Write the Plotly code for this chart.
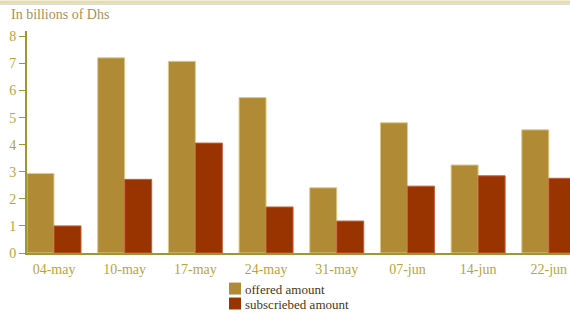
import plotly.graph_objects as go

categories = ["04-may", "10-may", "17-may", "24-may", "31-may", "07-jun", "14-jun", "22-jun"]
offered = [2.94, 7.21, 7.08, 5.74, 2.41, 4.81, 3.25, 4.55]
subscribed = [1.0, 2.72, 4.06, 1.70, 1.18, 2.47, 2.85, 2.76]
series_names = ["offered amount", "subscriebed amount"]
series_colors = ["#b08a35", "#993300"]
y_ticks = [0, 1, 2, 3, 4, 5, 6, 7, 8]

W, H = 570, 315
ML, MR, MT, MB = 27, 0, 30.5, 61.7
pw = W - ML - MR
ph = H - MT - MB

def px_x(x):
    return (x - ML) / pw

def px_y(y):
    return (H - MB - y) / ph

axis_col = "#9c9a2c"
tick_col = "#b8a43a"
font_fam = "Liberation Serif, DejaVu Serif, serif"

fig = go.Figure()
fig.add_trace(go.Bar(x=categories, y=offered, name=series_names[0], showlegend=False,
                     marker=dict(color=series_colors[0], line=dict(color="#dccb8c", width=1))))
fig.add_trace(go.Bar(x=categories, y=subscribed, name=series_names[1], showlegend=False,
                     marker=dict(color=series_colors[1], line=dict(color="#c2603a", width=1))))

shapes = [
    dict(type="rect", xref="paper", yref="paper", x0=px_x(0), x1=px_x(W),
         y0=px_y(3), y1=px_y(0), fillcolor="#e8dcaa", line=dict(width=0), layer="above"),
    dict(type="line", xref="paper", yref="paper", x0=px_x(0), x1=px_x(W),
         y0=px_y(3.5), y1=px_y(3.5), line=dict(color="#c8c8c8", width=1)),
]
annotations = [
    dict(text="In billions of Dhs", xref="paper", yref="paper",
         x=px_x(9), y=px_y(14), xanchor="left", yanchor="middle",
         showarrow=False, font=dict(family=font_fam, size=14, color="#a8905a")),
]
# legend drawn as swatches + text
for i, (nm, col) in enumerate(zip(series_names, series_colors)):
    top = 283 + i * 15
    shapes.append(dict(type="rect", xref="paper", yref="paper",
                       x0=px_x(229), x1=px_x(241), y0=px_y(top + 12), y1=px_y(top),
                       fillcolor=col, line=dict(width=0)))
    annotations.append(dict(text=nm, xref="paper", yref="paper",
                            x=px_x(243), y=px_y(top + 6.5), xanchor="left", yanchor="middle",
                            showarrow=False,
                            font=dict(family=font_fam, size=13, color="#4a3418")))

fig.update_layout(
    width=W, height=H,
    margin=dict(l=ML, r=MR, t=MT, b=MB, pad=0, autoexpand=False),
    paper_bgcolor="white", plot_bgcolor="white",
    barmode="group", bargap=0.236, bargroupgap=0,
    font=dict(family=font_fam, size=14, color=tick_col),
    showlegend=False,
    xaxis=dict(type="category", range=[-0.382, 7.30], showgrid=False, automargin=False,
               showline=True, linecolor=axis_col, linewidth=2,
               ticks="", ticklabelstandoff=2,
               tickfont=dict(family=font_fam, size=14, color=tick_col),
               fixedrange=True),
    yaxis=dict(range=[0, 8.2], tickvals=y_ticks, showgrid=False, zeroline=False,
               automargin=False,
               showline=True, linecolor=axis_col, linewidth=2,
               ticks="outside", ticklen=6, tickcolor=axis_col, tickwidth=1,
               tickfont=dict(family=font_fam, size=14, color=tick_col),
               fixedrange=True),
    annotations=annotations,
    shapes=shapes,
)

fig.write_html("out.html", config={"displayModeBar": False},
               post_script="document.body.style.margin='0';document.body.style.overflow='hidden';")
